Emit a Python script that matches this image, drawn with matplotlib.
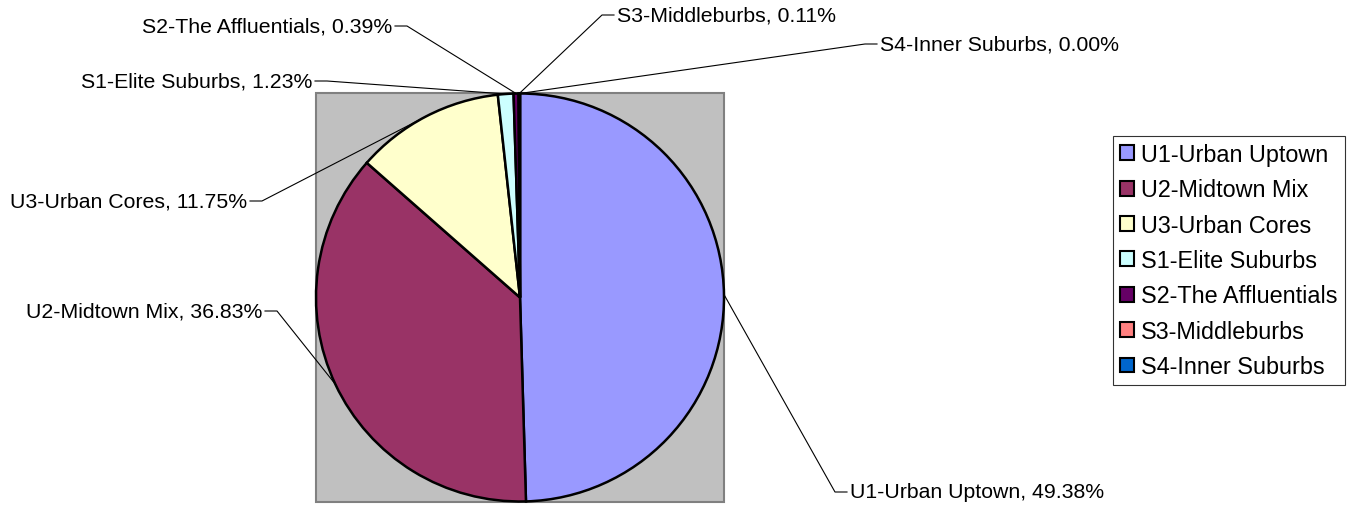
import matplotlib
matplotlib.use("Agg")
import matplotlib.pyplot as plt
from matplotlib.patches import Rectangle, Patch
import numpy as np

plt.rcParams["font.family"] = ["Liberation Sans", "DejaVu Sans"]

# Data
segments = ["U1-Urban Uptown", "U2-Midtown Mix", "U3-Urban Cores", "S1-Elite Suburbs",
            "S2-The Affluentials", "S3-Middleburbs", "S4-Inner Suburbs"]
shares = [49.38, 36.83, 11.75, 1.23, 0.39, 0.11, 0.00]
colors = ["#9999FF", "#993366", "#FFFFCC", "#CCFFFF", "#660066", "#FF8080", "#0066CC"]

# label placement in pixels: (side of text, x of text edge, y)
label_pos = [("L", 850, 493), ("R", 262, 312), ("R", 247, 202), ("R", 312, 82),
             ("R", 392, 27), ("L", 617, 16), ("L", 880, 45)]

W, H = 1357, 510
fig = plt.figure(figsize=(W / 100, H / 100), dpi=100)
ax = fig.add_axes([0, 0, 1, 1])

cx, cy, r = 520, H - 298.5, 204

# gray plot area
ax.add_patch(Rectangle((316, H - 503), 408, 409, facecolor="#C0C0C0",
                       edgecolor="#808080", linewidth=1.5, zorder=0))

wedges, _ = ax.pie(shares, colors=colors, startangle=90, counterclock=False,
                   center=(cx, cy), radius=r,
                   wedgeprops=dict(edgecolor="black", linewidth=1.8))

# labels with leader lines
for w, name, val, (side, tx, ty) in zip(wedges, segments, shares, label_pos):
    ang = np.deg2rad((w.theta1 + w.theta2) / 2)
    ax_x = cx + r * np.cos(ang)
    ax_y = cy + r * np.sin(ang)
    y = H - ty
    text = f"{name}, {val:.2f}%"
    if side == "R":
        ax.text(tx, y, text, ha="right", va="center", fontsize=15.3)
        xs = [tx + 3, tx + 15, ax_x]
    else:
        ax.text(tx, y, text, ha="left", va="center", fontsize=15.3)
        xs = [tx - 3, tx - 15, ax_x]
    ax.plot(xs, [y, y, ax_y], color="black", linewidth=0.8, zorder=5)

handles = [Patch(facecolor=c, edgecolor="black", linewidth=1.5) for c in colors]
leg = ax.legend(handles, segments, loc="upper left",
                bbox_to_anchor=(1113 / W, 1 - 137 / H), bbox_transform=fig.transFigure,
                fontsize=16.8, frameon=True, fancybox=False, borderaxespad=0,
                handlelength=0.6, handleheight=0.6, handletextpad=0.3,
                labelspacing=0.53, borderpad=0.3)
leg.get_frame().set_edgecolor("black")
leg.get_frame().set_linewidth(0.8)

ax.set_xlim(0, W)
ax.set_ylim(0, H)
ax.set_aspect("equal")
ax.axis("off")

fig.savefig("out.png", dpi=100)
